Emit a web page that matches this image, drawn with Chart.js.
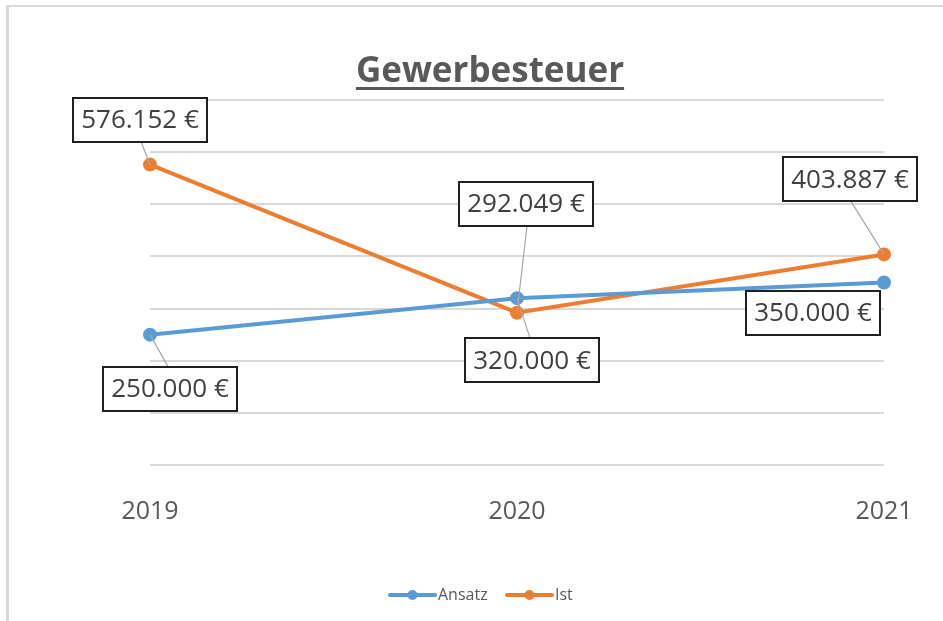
<!DOCTYPE html>
<html>
<head>
<meta charset="utf-8">
<script src="https://cdn.jsdelivr.net/npm/chart.js@4/dist/chart.umd.min.js"></script>
<style>
  html, body { margin:0; padding:0; background:#fff; }
  #wrap { position:relative; width:943px; height:621px; overflow:hidden; }
  #frame { position:absolute; left:6px; top:5px; width:960px; height:640px;
           border-top:2px solid #d9d9d9; border-left:3px solid #d9d9d9; pointer-events:none; }
  canvas { position:absolute; left:0; top:0; }
</style>
</head>
<body>
<div id="wrap">
  <canvas id="c" width="943" height="621"></canvas>
  <div id="frame"></div>
</div>
<script>
// ---- data ----
const categories = ['2019', '2020', '2021'];
const ansatz = [250000, 320000, 350000];
const ist = [576152, 292049, 403887];
const seriesNames = ['Ansatz', 'Ist'];
const chartTitle = 'Gewerbesteuer';
const yMin = 0, yMax = 700000, yStep = 100000;

// label placement (offset of box centre from its point, leader line on/off)
const ansatzLabelPos = [[20, 54, true], [15, 62, true], [-71, 30, false]];
const istLabelPos = [[-10, -45, true], [9, -109, true], [-34, -75, true]];

const BLUE = '#5B9BD5', ORANGE = '#ED7D31';
const FONT = '"Open Sans", "Liberation Sans", sans-serif';

function fmtEuro(v) {
  const s = Math.round(v).toString().replace(/\B(?=(\d{3})+(?!\d))/g, '.');
  return s + ' €';
}

const boxLabels = {
  id: 'boxLabels',
  afterDatasetsDraw(chart) {
    const ctx = chart.ctx;
    ctx.save();
    chart.data.datasets.forEach((ds, di) => {
      const meta = chart.getDatasetMeta(di);
      meta.data.forEach((pt, i) => {
        const off = ds.labelPos[i];
        const txt = fmtEuro(ds.data[i]);
        ctx.font = '26px ' + FONT;
        const w = Math.round(ctx.measureText(txt).width + 16);
        const h = 44;
        const cx = pt.x + off[0], cy = pt.y + off[1];
        if (off[2]) {
          const ey = off[1] < 0 ? cy + h / 2 : cy - h / 2;
          ctx.beginPath();
          ctx.strokeStyle = '#a6a6a6';
          ctx.lineWidth = 1.2;
          ctx.moveTo(cx + (off[1] < 0 ? 1 : -2), ey);
          ctx.lineTo(pt.x, pt.y);
          ctx.stroke();
        }
        const x0 = Math.round(cx - w / 2), y0 = Math.round(cy - h / 2);
        ctx.fillStyle = '#ffffff';
        ctx.fillRect(x0, y0, w, h);
        ctx.strokeStyle = '#1f1f1f';
        ctx.lineWidth = 2;
        ctx.strokeRect(x0, y0, w, h);
        ctx.fillStyle = '#404040';
        ctx.textAlign = 'center';
        ctx.textBaseline = 'middle';
        ctx.fillText(txt, cx, cy + 1);
      });
    });
    ctx.restore();
  }
};

const titleAndLegend = {
  id: 'titleAndLegend',
  afterDraw(chart) {
    const ctx = chart.ctx;
    ctx.save();
    // title
    ctx.font = 'bold 35px ' + FONT;
    ctx.fillStyle = '#595959';
    ctx.textAlign = 'center';
    ctx.textBaseline = 'alphabetic';
    const tx = 490, ty = 82;
    ctx.fillText(chartTitle, tx, ty);
    const tw = ctx.measureText(chartTitle).width;
    ctx.fillRect(tx - tw / 2, 87, tw, 3);
    // legend
    const items = [
      { name: seriesNames[0], color: BLUE, x: 390 },
      { name: seriesNames[1], color: ORANGE, x: 507 }
    ];
    const ly = 595;
    ctx.font = '16px ' + FONT;
    ctx.textAlign = 'left';
    ctx.textBaseline = 'middle';
    items.forEach(it => {
      ctx.strokeStyle = it.color;
      ctx.lineWidth = 4;
      ctx.lineCap = 'round';
      ctx.beginPath();
      ctx.moveTo(it.x, ly);
      ctx.lineTo(it.x + 45, ly);
      ctx.stroke();
      ctx.fillStyle = it.color;
      ctx.beginPath();
      ctx.arc(it.x + 22.5, ly, 5, 0, Math.PI * 2);
      ctx.fill();
      ctx.fillStyle = '#595959';
      ctx.fillText(it.name, it.x + 48, ly);
    });
    ctx.restore();
  }
};

new Chart(document.getElementById('c'), {
  type: 'line',
  data: {
    labels: categories,
    datasets: [
      { label: seriesNames[0], data: ansatz, labelPos: ansatzLabelPos,
        borderColor: BLUE, backgroundColor: BLUE, borderWidth: 4,
        pointRadius: 5, pointBackgroundColor: BLUE, pointBorderColor: BLUE, tension: 0 },
      { label: seriesNames[1], data: ist, labelPos: istLabelPos,
        borderColor: ORANGE, backgroundColor: ORANGE, borderWidth: 4,
        pointRadius: 5, pointBackgroundColor: ORANGE, pointBorderColor: ORANGE, tension: 0 }
    ]
  },
  options: {
    responsive: false,
    animation: false,
    layout: { padding: { left: 150, right: 59, top: 100, bottom: 0 } },
    plugins: { legend: { display: false }, title: { display: false }, tooltip: { enabled: false } },
    scales: {
      x: {
        offset: false,
        grid: { display: false },
        border: { display: false },
        ticks: { font: { family: FONT, size: 25 }, color: '#595959', padding: 24, maxRotation: 0, autoSkip: false },
        afterFit(s) { s.height = 156; }
      },
      y: {
        min: yMin, max: yMax,
        ticks: { display: false, stepSize: yStep },
        grid: { color: '#d9d9d9', lineWidth: 2, drawTicks: false },
        border: { display: false },
        afterFit(s) { s.width = 0; }
      }
    }
  },
  plugins: [boxLabels, titleAndLegend]
});
</script>
</body>
</html>
